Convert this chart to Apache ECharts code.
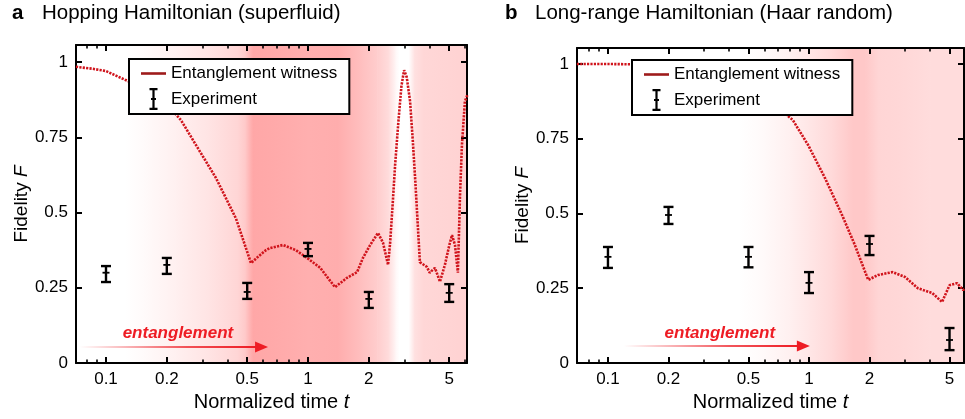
<!DOCTYPE html>
<html><head><meta charset="utf-8">
<script src="https://cdn.jsdelivr.net/npm/echarts@6/dist/echarts.min.js"></script>
<style>html,body{margin:0;padding:0;background:#fff}#c{width:965px;height:419px}</style>
</head><body><div id="c"></div>
<script>
// ---------- data ----------
const tickVals = [0.1, 0.2, 0.5, 1, 2, 5];
const tickLabels = ['0.1', '0.2', '0.5', '1', '2', '5'];
const minorVals = [0.08, 0.09, 0.3, 0.4, 0.6, 0.7, 0.8, 0.9, 3, 4, 6];
const yTicks = [0, 0.25, 0.5, 0.75, 1];
const yLabels = ['0', '0.25', '0.5', '0.75', '1'];

// panel a: witness curve
const tA = [0.071,0.085,0.1,0.125,0.16,0.2,0.235,0.279,0.35,0.44,0.522,0.57,0.62,0.648,0.752,0.87,0.99,1.15,1.36,1.56,1.75,1.87,2.03,2.22,2.35,2.49,2.55,2.62,2.7,2.8,2.9,2.99,3.08,3.2,3.3,3.4,3.5,3.58,3.88,4.0,4.25,4.5,4.76,5.0,5.16,5.34,5.52,5.65,5.78,5.98,6.15];
const fA = [0.984,0.978,0.97,0.94,0.91,0.86,0.807,0.724,0.615,0.48,0.332,0.355,0.375,0.382,0.392,0.375,0.349,0.316,0.252,0.283,0.302,0.349,0.392,0.432,0.40,0.326,0.40,0.52,0.66,0.80,0.92,0.973,0.95,0.87,0.74,0.60,0.45,0.335,0.319,0.30,0.316,0.27,0.326,0.39,0.425,0.392,0.30,0.55,0.724,0.87,0.89];
// panel a: experiment
const tAexp = [0.1, 0.2, 0.5, 1, 2, 5];
const fAexp = [0.300, 0.326, 0.236, 0.379, 0.213, 0.233];
const loAexp = [0.269, 0.296, 0.213, 0.355, 0.183, 0.203];
const hiAexp = [0.322, 0.349, 0.266, 0.399, 0.236, 0.262];
// panel a: background entanglement shading
const shadeAt = [0.071,0.125,0.16,0.22,0.32,0.45,0.49,0.53,0.7,1.0,1.4,1.8,2.2,2.5,2.72,2.82,3.15,3.35,3.7,4.5,6.2];
const shadeAv = [0,0,0.06,0.15,0.27,0.42,0.55,0.88,0.85,0.8,0.82,0.65,0.5,0.35,0.08,0,0,0.3,0.4,0.42,0.45];

// panel b: witness curve
const tB = [0.07,0.1,0.13,0.2,0.3,0.45,0.6,0.83,0.99,1.2,1.46,1.69,1.97,2.2,2.6,3.0,3.48,4.1,4.59,5.0,5.45,5.85,6.0];
const fB = [1.0,1.0,0.999,0.995,0.98,0.94,0.89,0.813,0.729,0.619,0.495,0.395,0.278,0.294,0.304,0.288,0.25,0.234,0.204,0.26,0.267,0.244,0.25];
// panel b: experiment
const tBexp = [0.1, 0.2, 0.5, 1, 2, 5];
const fBexp = [0.355, 0.495, 0.355, 0.268, 0.398, 0.077];
const loBexp = [0.318, 0.465, 0.320, 0.234, 0.361, 0.043];
const hiBexp = [0.388, 0.522, 0.388, 0.304, 0.425, 0.117];
// panel b: background shading
const shadeBt = [0.07,0.45,0.6,0.8,1.0,1.3,1.65,1.9,2.2,2.8,4,6.2];
const shadeBv = [0,0,0.06,0.15,0.25,0.38,0.55,0.55,0.42,0.4,0.35,0.35];

// annotation arrows [t start, t end, F level], text [t, F]
const arrowA = [0.074, 0.634, 0.053];
const textA = [0.227, 0.10];
const arrowB = [0.12, 1.01, 0.057];
const textB = [0.36, 0.10];

// ---------- build ----------
const FONT = '"Liberation Sans", Arial, Helvetica, sans-serif';
const L = Math.log10;
const xRangeA = [-1.1485, 0.787];
const xRangeB = [-1.154, 0.771];
const yMaxA = 1.0565, yMaxB = 1.0535;
const INK = '#000';

function fmtX(v) {
  let best = 0, d = 1e9;
  tickVals.forEach((t, i) => { const dd = Math.abs(L(t) - v); if (dd < d) { d = dd; best = i; } });
  return tickLabels[best];
}
function fmtY(v) {
  let best = 0, d = 1e9;
  yTicks.forEach((t, i) => { const dd = Math.abs(t - v); if (dd < d) { d = dd; best = i; } });
  return yLabels[best];
}

const lineStyleAxis = { show: true, onZero: false, lineStyle: { color: '#000', width: 2 } };

function xAxesFor(gi, range) {
  const majors = tickVals.map(L).filter(v => v >= range[0] && v <= range[1]);
  const minors = minorVals.map(L).filter(v => v >= range[0] && v <= range[1]);
  const base = { type: 'value', gridIndex: gi, min: range[0], max: range[1], splitLine: { show: false } };
  return [
    Object.assign({}, base, {
      position: 'bottom', axisLine: lineStyleAxis,
      axisTick: { show: true, inside: true, length: 6, customValues: majors, lineStyle: { color: '#000', width: 2 } },
      axisLabel: { show: true, customValues: majors, formatter: fmtX, margin: 8, color: INK, fontSize: 17, fontFamily: FONT },
      name: 'Normalized time {i|t}', nameLocation: 'middle', nameGap: 29,
      nameTextStyle: { fontSize: 20, color: INK, fontFamily: FONT, rich: { i: { fontSize: 20, fontStyle: 'italic', fontFamily: FONT, color: INK } } }
    }),
    Object.assign({}, base, {
      position: 'bottom', axisLine: { show: false, onZero: false },
      axisTick: { show: true, inside: true, length: 3.5, customValues: minors, lineStyle: { color: '#000', width: 1.6 } },
      axisLabel: { show: false }
    }),
    Object.assign({}, base, {
      position: 'top', axisLine: lineStyleAxis,
      axisTick: { show: true, inside: true, length: 6, customValues: majors, lineStyle: { color: '#000', width: 2 } },
      axisLabel: { show: false }
    }),
    Object.assign({}, base, {
      position: 'top', axisLine: { show: false, onZero: false },
      axisTick: { show: true, inside: true, length: 3.5, customValues: minors, lineStyle: { color: '#000', width: 1.6 } },
      axisLabel: { show: false }
    })
  ];
}
function yAxesFor(gi, ymax) {
  const base = { type: 'value', gridIndex: gi, min: 0, max: ymax, splitLine: { show: false } };
  return [
    Object.assign({}, base, {
      position: 'left', axisLine: lineStyleAxis,
      axisTick: { show: true, inside: true, length: 6, customValues: yTicks, lineStyle: { color: '#000', width: 2 } },
      axisLabel: { show: true, customValues: yTicks, formatter: fmtY, margin: 8, color: INK, fontSize: 17, fontFamily: FONT },
      name: 'Fidelity {i|F}', nameLocation: 'middle', nameGap: 45,
      nameTextStyle: { fontSize: 19, color: INK, fontFamily: FONT, rich: { i: { fontSize: 19, fontStyle: 'italic', fontFamily: FONT, color: INK } } }
    }),
    Object.assign({}, base, {
      position: 'right', axisLine: lineStyleAxis,
      axisTick: { show: true, inside: true, length: 6, customValues: yTicks, lineStyle: { color: '#000', width: 2 } },
      axisLabel: { show: false }
    })
  ];
}

function shadeColor(v) {
  const g = Math.round(255 - 100 * v);
  return 'rgb(255,' + g + ',' + g + ')';
}
function shadeData(ts, vs) {
  const out = [];
  for (let i = 0; i < ts.length - 1; i++) out.push([L(ts[i]), L(ts[i + 1]), vs[i], vs[i + 1]]);
  return out;
}
function shadeRender(params, api) {
  const cs = params.coordSys;
  const x0 = api.coord([api.value(0), 0])[0];
  const x1 = api.coord([api.value(1), 0])[0];
  const left = Math.max(cs.x, x0), right = Math.min(cs.x + cs.width, x1);
  if (right <= left) return null;
  return {
    type: 'rect',
    shape: { x: left, y: cs.y, width: right - left + 0.6, height: cs.height },
    style: {
      fill: new echarts.graphic.LinearGradient(0, 0, 1, 0, [
        { offset: 0, color: shadeColor(api.value(2)) },
        { offset: 1, color: shadeColor(api.value(3)) }
      ])
    }
  };
}
function errData(ts, fs, lo, hi) { return ts.map((t, i) => [L(t), fs[i], lo[i], hi[i]]); }
function errRender(params, api) {
  const x = api.value(0);
  const pc = api.coord([x, api.value(1)]), pl = api.coord([x, api.value(2)]), ph = api.coord([x, api.value(3)]);
  const w = 5, st = { stroke: '#000', lineWidth: 2.4 };
  return {
    type: 'group', children: [
      { type: 'line', shape: { x1: pl[0], y1: pl[1], x2: ph[0], y2: ph[1] }, style: st },
      { type: 'line', shape: { x1: pl[0] - w, y1: pl[1], x2: pl[0] + w, y2: pl[1] }, style: st },
      { type: 'line', shape: { x1: ph[0] - w, y1: ph[1], x2: ph[0] + w, y2: ph[1] }, style: st },
      { type: 'line', shape: { x1: pc[0] - 3.5, y1: pc[1], x2: pc[0] + 3.5, y2: pc[1] }, style: { stroke: '#000', lineWidth: 1.8 } }
    ]
  };
}
const curveStyle = { color: '#d0141c', width: 2.6, type: [2.2, 1.2] };
const iconLine = 'path://M0,0H25V2.6H0Z';
const iconErr = 'path://M0,0H8V2.2H5.1V10H6.5V12H5.1V19.8H8V22H0V19.8H2.9V12H1.5V10H2.9V2.2H0Z';

function legendFor(left, top) {
  return {
    orient: 'vertical', left: left, top: top, padding: [6, 12, 4, 12], itemGap: 6,
    itemWidth: 25, itemHeight: 22, borderColor: '#000', borderWidth: 2, backgroundColor: '#fff',
    selectedMode: false, symbolKeepAspect: true,
    textStyle: { fontSize: 17, color: INK, fontFamily: FONT },
    data: [
      { name: 'Entanglement witness', icon: iconLine, itemStyle: { color: '#9e1b1b', borderWidth: 0 } },
      { name: 'Experiment', icon: iconErr, itemStyle: { color: '#000', borderWidth: 0 } }
    ]
  };
}
const titleStyle = { fontSize: 20.5, color: INK, fontFamily: FONT, fontWeight: 'normal' };

const option = {
  animation: false,
  backgroundColor: '#fff',
  title: [
    { text: 'a', left: 12, top: 3, padding: 0, textStyle: Object.assign({}, titleStyle, { fontWeight: 'bold' }) },
    { text: 'Hopping Hamiltonian (superfluid)', left: 42, top: 3, padding: 0, textStyle: titleStyle },
    { text: 'b', left: 505, top: 3, padding: 0, textStyle: Object.assign({}, titleStyle, { fontWeight: 'bold' }) },
    { text: 'Long-range Hamiltonian (Haar random)', left: 535, top: 3, padding: 0, textStyle: titleStyle }
  ],
  legend: [legendFor(129, 59), legendFor(632, 60)],
  grid: [
    { left: 76, top: 45, width: 391, height: 318 },
    { left: 577, top: 48, width: 387, height: 315 }
  ],
  xAxis: xAxesFor(0, xRangeA).concat(xAxesFor(1, xRangeB)),
  yAxis: yAxesFor(0, yMaxA).concat(yAxesFor(1, yMaxB)),
  series: [
    { type: 'custom', name: 'shadeA', xAxisIndex: 0, yAxisIndex: 0, z: -1, silent: true, clip: true,
      renderItem: shadeRender, encode: { x: [0, 1] }, data: shadeData(shadeAt, shadeAv) },
    { type: 'line', name: 'Entanglement witness', xAxisIndex: 0, yAxisIndex: 0, z: 3, showSymbol: false, symbol: 'none',
      lineStyle: curveStyle, itemStyle: { color: '#d0141c' }, data: tA.map((t, i) => [L(t), fA[i]]) },
    { type: 'custom', name: 'Experiment', xAxisIndex: 0, yAxisIndex: 0, z: 4, itemStyle: { color: '#000' },
      renderItem: errRender, encode: { x: 0, y: [1, 2, 3] }, data: errData(tAexp, fAexp, loAexp, hiAexp) },
    { type: 'custom', name: 'shadeB', xAxisIndex: 4, yAxisIndex: 2, z: -1, silent: true, clip: true,
      renderItem: shadeRender, encode: { x: [0, 1] }, data: shadeData(shadeBt, shadeBv) },
    { type: 'line', name: 'Entanglement witness', xAxisIndex: 4, yAxisIndex: 2, z: 3, showSymbol: false, symbol: 'none',
      lineStyle: curveStyle, itemStyle: { color: '#d0141c' }, data: tB.map((t, i) => [L(t), fB[i]]) },
    { type: 'custom', name: 'Experiment', xAxisIndex: 4, yAxisIndex: 2, z: 4, itemStyle: { color: '#000' },
      renderItem: errRender, encode: { x: 0, y: [1, 2, 3] }, data: errData(tBexp, fBexp, loBexp, hiBexp) }
  ]
};

const chart = echarts.init(document.getElementById('c'), null, { renderer: 'canvas' });
chart.setOption(option);

// annotations: "entanglement" arrows placed through the axes' scales
function annot(xi, yi, arrow, txt) {
  const p0 = chart.convertToPixel({ xAxisIndex: xi, yAxisIndex: yi }, [L(arrow[0]), arrow[2]]);
  const p1 = chart.convertToPixel({ xAxisIndex: xi, yAxisIndex: yi }, [L(arrow[1]), arrow[2]]);
  const pt = chart.convertToPixel({ xAxisIndex: xi, yAxisIndex: yi }, [L(txt[0]), txt[1]]);
  const red = '#ee1c24';
  return [
    { type: 'rect', z: 10, shape: { x: p0[0], y: p0[1] - 1, width: p1[0] - p0[0] - 10, height: 2 },
      style: { fill: new echarts.graphic.LinearGradient(0, 0, 1, 0, [
        { offset: 0, color: 'rgba(238,28,36,0)' }, { offset: 0.6, color: 'rgba(238,28,36,0.75)' }, { offset: 1, color: red }]) } },
    { type: 'polygon', z: 10, shape: { points: [[p1[0] - 13, p1[1] - 5.5], [p1[0], p1[1]], [p1[0] - 13, p1[1] + 5.5]] }, style: { fill: red } },
    { type: 'text', z: 10, x: pt[0], y: pt[1], style: { text: 'entanglement', fill: red, align: 'center', verticalAlign: 'middle',
      font: 'italic bold 17px ' + FONT } }
  ];
}
chart.setOption({ graphic: annot(0, 0, arrowA, textA).concat(annot(4, 2, arrowB, textB)) });
</script></body></html>
